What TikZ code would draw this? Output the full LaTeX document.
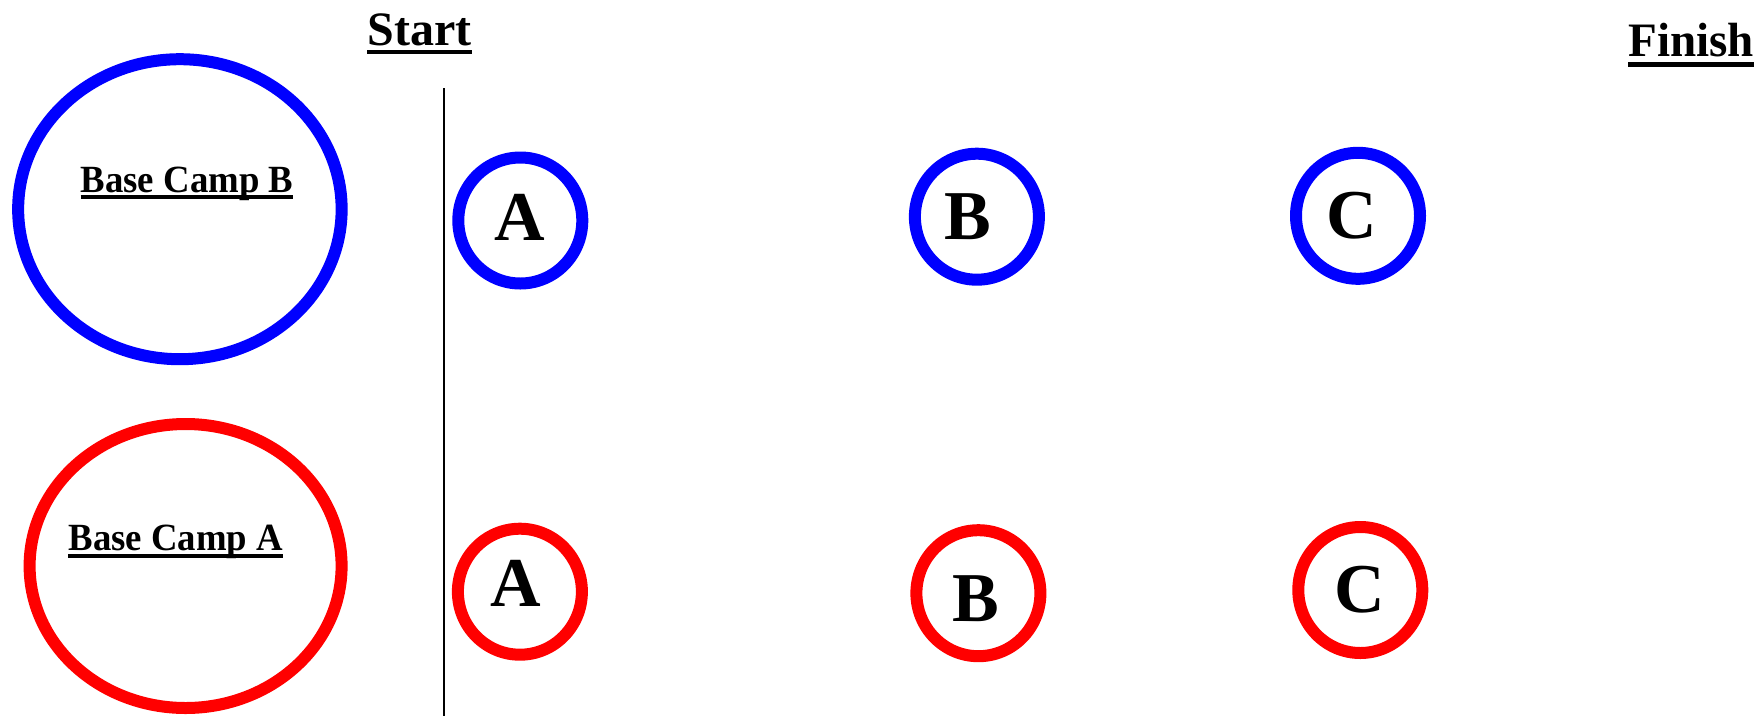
\documentclass[tikz,border=0pt]{standalone}
\usepackage{fontspec}
\setmainfont{Liberation Serif}
\usetikzlibrary{shapes.geometric}
\definecolor{myblue}{RGB}{0,0,255}
\definecolor{myred}{RGB}{255,0,0}
\begin{document}
\begin{tikzpicture}[x=1pt,y=-1pt,
  ring/.style={ellipse, line width=12pt, inner sep=0pt, minimum width=124pt, minimum height=126pt},
  bring/.style={ring, draw=myblue},
  rring/.style={ring, draw=myred},
  camp/.style={ellipse, line width=12pt, inner sep=0pt},
  letter/.style={inner sep=0pt, anchor=base, font=\fontsize{70}{70}\selectfont\bfseries},
  camplabel/.style={inner sep=0pt, anchor=base, font=\fontsize{38.5}{40}\selectfont\bfseries},
  headlabel/.style={inner sep=0pt, anchor=base, font=\fontsize{48}{50}\selectfont\bfseries},
  uline/.style={line width=4.3pt, black}
]
\useasboundingbox (0,0) rectangle (1757,716);

% base camps
\node[camp, draw=myblue, minimum width=323.5pt, minimum height=300pt] (campB) at (179.9,209.2) {};
\node[camp, draw=myred, minimum width=312pt, minimum height=284pt] (campA) at (185.6,566) {};
\node[camplabel] (lblB) at (187,192.7) {\scalebox{0.955}[1]{Base Camp B}};
\node[camplabel] (lblA) at (175.9,550.7) {\scalebox{0.955}[1]{Base Camp A}};
\draw[uline, line width=4pt] ([yshift=-4.3pt]lblB.base west) -- ([yshift=-4.3pt]lblB.base east);
\draw[uline, line width=4pt] ([yshift=-5pt]lblA.base west) -- ([yshift=-5pt]lblA.base east);

% headings
\node[headlabel] (start) at (419.6,45) {Start};
\node[headlabel] (finish) at (1691.2,56.7) {\scalebox{0.98}[1]{Finish}};
\draw[uline] ([yshift=-6.7pt]start.base west) -- ([yshift=-6.7pt]start.base east);
\draw[uline, line width=5pt] ([yshift=-7.3pt]finish.base west) -- ([yshift=-7.3pt]finish.base east);

% start line
\coordinate (lineTop) at (444,88.3);
\coordinate (lineBot) at (444,716);
\draw[line width=2pt, black] (lineTop) -- (lineBot);

% blue stations
\node[bring] (bA) at (520.3,220.5) {};
\node[bring] (bB) at (976.9,216.7) {};
\node[bring] (bC) at (1358,215.8) {};
\node[letter] (tbA) at (519.5,240.7) {A};
\node[letter] (tbB) at (968.3,239) {B};
\node[letter] (tbC) at (1351.9,238.5) {C};

% red stations
\node[rring] (rA) at (519.9,591.7) {};
\node[rring] (rB) at (978.4,593.2) {};
\node[rring] (rC) at (1360.3,590) {};
\node[letter] (trA) at (515.3,606) {A};
\node[letter] (trB) at (975.9,621.7) {B};
\node[letter] (trC) at (1360,612.5) {C};
\end{tikzpicture}
\end{document}
